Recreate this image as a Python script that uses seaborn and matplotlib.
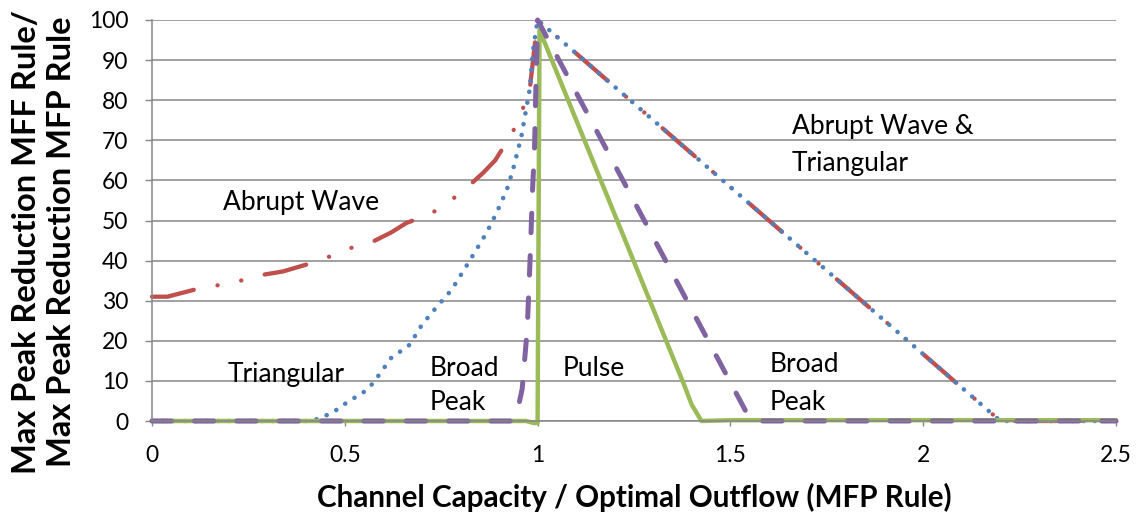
import matplotlib
matplotlib.use("Agg")
import matplotlib.pyplot as plt
import seaborn as sns
import numpy as np

# ---- data ----
abrupt_x = [0.00, 0.04, 0.08, 0.12, 0.18, 0.23, 0.29, 0.34, 0.40, 0.45, 0.51, 0.57,
            0.62, 0.66, 0.72, 0.77, 0.82, 0.86, 0.89, 0.92, 0.95, 0.98, 1.00, 2.20, 2.50]
abrupt_y = [31, 31, 32, 33, 34, 35, 36.5, 37.3, 39, 40.6, 43, 44.6,
            47, 49.4, 51.5, 54.6, 58.5, 62, 65, 69.6, 74.6, 83, 100, 0, 0]

tri_x = [0.00, 0.40, 0.43, 0.466, 0.49, 0.513, 0.54, 0.565, 0.585, 0.62, 0.668, 0.70,
         0.738, 0.777, 0.824, 0.868, 0.894, 0.92, 0.936, 0.958, 0.97, 0.98, 0.987, 1.00, 2.20, 2.50]
tri_y = [0, 0, 0.5, 2, 3.5, 5.2, 6.5, 8.5, 11, 15.7, 19, 24,
         28.4, 32.7, 40, 47, 52, 57.6, 62.6, 71, 77.6, 83, 91.7, 100, 0, 0]

broad_x = [0.00, 0.935, 0.95, 0.96, 0.973, 0.98, 0.987, 0.992, 0.996, 1.00, 1.545, 1.56, 2.50]
broad_y = [0, 0, 3.5, 8, 22.7, 39, 58, 68, 85, 100, 1.5, 0, 0]

pulse_x = [0.00, 0.97, 0.99, 1.00, 1.005, 1.38, 1.40, 1.425, 1.50, 2.50]
pulse_y = [0, 0, -0.5, -0.5, 97.5, 9, 4, 0, 0.2, 0.2]

x_ticks = [0, 0.5, 1, 1.5, 2, 2.5]
x_tick_labels = ["0", "0.5", "1", "1.5", "2", "2.5"]
y_ticks = [0, 10, 20, 30, 40, 50, 60, 70, 80, 90, 100]

x_label = "Channel Capacity / Optimal Outflow (MFP Rule)"
y_label = "Max Peak Reduction MFF Rule/\nMax Peak Reduction MFP Rule"

# ---- style ----
sns.set_theme(style="white")
plt.rcParams['font.family'] = ['Lato', 'DejaVu Sans']
plt.rcParams['lines.scale_dashes'] = False

RED = "#C0504D"
BLUE = "#4F81BD"
PURPLE = "#8064A2"
GREEN = "#9BBB59"
GRID = "#868686"

fig = plt.figure(figsize=(11.37, 5.15), dpi=100)
ax = fig.add_axes([152 / 1137, 1 - 421 / 515, (1116 - 152) / 1137, (421 - 20) / 515])

common = dict(ax=ax, sort=False, estimator=None, clip_on=False, legend=False)

sns.lineplot(x=abrupt_x, y=abrupt_y, color=RED, linewidth=3.1,
             linestyle=(0, (30.7, 17.4, 0.1, 17.3, 0.1, 17.4)),
             dash_capstyle="round", solid_capstyle="round", **common)
sns.lineplot(x=tri_x, y=tri_y, color=BLUE, linewidth=3.3,
             linestyle=(0, (0.1, 7.8)), dash_capstyle="round", **common)
sns.lineplot(x=pulse_x, y=pulse_y, color=GREEN, linewidth=3.2,
             solid_joinstyle="round", solid_capstyle="round", **common)
sns.lineplot(x=broad_x, y=broad_y, color=PURPLE, linewidth=3.6,
             linestyle=(0, (14.0, 16.5)), dash_capstyle="round", **common)

ax.set_xlim(0, 2.5)
ax.set_ylim(0, 100)
ax.set_xticks(x_ticks)
ax.set_xticklabels(x_tick_labels)
ax.set_yticks(y_ticks)

ax.yaxis.grid(True, color=GRID, linewidth=1.1)
ax.xaxis.grid(False)
ax.set_axisbelow(True)
for side in ["top", "right"]:
    ax.spines[side].set_visible(False)
for side in ["left", "bottom"]:
    ax.spines[side].set_color(GRID)
    ax.spines[side].set_linewidth(1.1)

ax.tick_params(axis="y", direction="out", length=5, width=1, color=GRID,
               pad=12, labelsize=16.5, labelcolor="black", left=True)
ax.tick_params(axis="x", direction="out", length=3.6, width=1, color=GRID,
               pad=14, labelsize=16.5, labelcolor="black", bottom=True)

ax.set_xlabel(x_label, fontsize=21.3, fontweight="bold", color="black", labelpad=12)
ax.set_ylabel(y_label, fontsize=23.5, fontweight="bold", color="black",
              linespacing=1.25)
ax.yaxis.set_label_coords(-0.079, 0.446)

ann = dict(fontsize=19, color="black", va="center", ha="left")
ax.text(0.184, 54.4, "Abrupt Wave", **ann)
ax.text(0.197, 11.5, "Triangular", **ann)
ax.text(0.721, 13.2, "Broad", **ann)
ax.text(0.721, 4.5, "Peak", **ann)
ax.text(1.064, 13.0, "Pulse", **ann)
ax.text(1.603, 14.0, "Broad", **ann)
ax.text(1.603, 4.7, "Peak", **ann)
ax.text(1.66, 73.5, "Abrupt Wave &", **ann)
ax.text(1.66, 64.3, "Triangular", **ann)

fig.savefig("out.png", dpi=100)
